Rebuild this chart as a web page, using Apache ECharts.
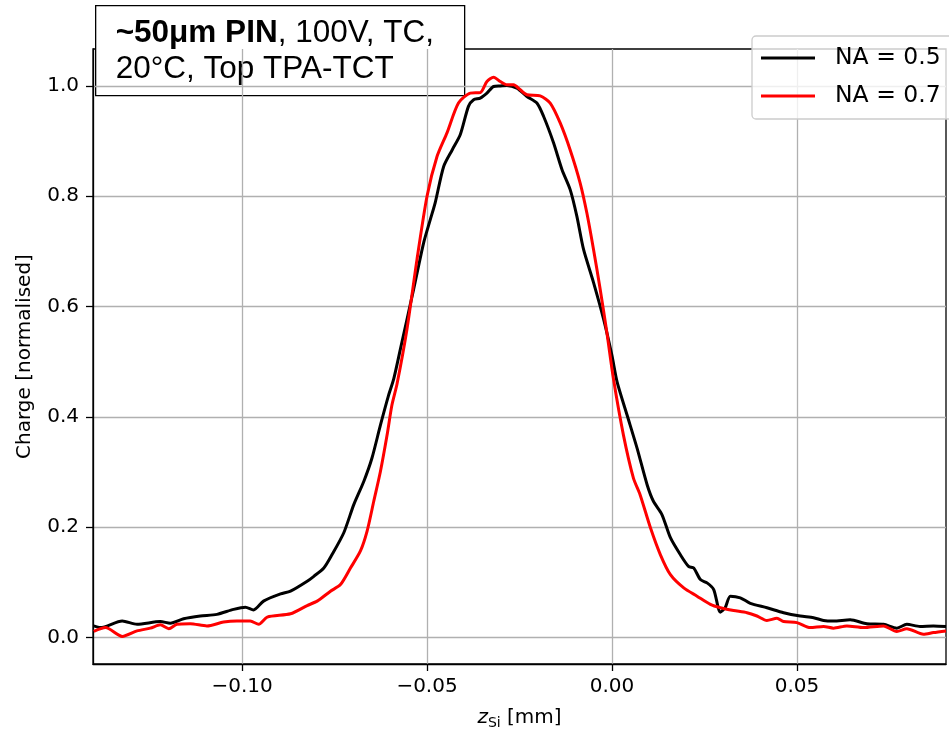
<!DOCTYPE html>
<html>
<head>
<meta charset="utf-8">
<script src="https://cdn.jsdelivr.net/npm/echarts@6/dist/echarts.min.js"></script>
<style>
html,body{margin:0;padding:0;background:#fff;}
#chart{width:949px;height:735px;}
</style>
</head>
<body>
<div id="chart"></div>
<script>
// ---- data ----
const xTicks = [-0.10, -0.05, 0.00, 0.05];
const yTicks = [0.0, 0.2, 0.4, 0.6, 0.8, 1.0];

const na05X = [-0.1401,-0.1383,-0.1324,-0.1284,-0.1221,-0.1194,-0.1158,-0.1113,-0.1068,-0.1023,-0.0991,-0.0969,-0.0942,-0.0896,-0.0869,-0.0824,-0.0806,-0.0779,-0.0757,-0.0725,-0.0698,-0.0671,-0.0649,-0.0626,-0.0604,-0.0590,-0.0572,-0.0536,-0.0509,-0.0491,-0.0478,-0.0455,-0.0432,-0.0410,-0.0388,-0.0374,-0.0356,-0.0338,-0.0320,-0.0302,-0.0284,-0.0257,-0.0230,-0.0203,-0.0185,-0.0158,-0.0135,-0.0113,-0.0095,-0.0077,-0.0050,-0.0023,0.0000,0.0014,0.0041,0.0068,0.0095,0.0112,0.0135,0.0158,0.0185,0.0207,0.0221,0.0239,0.0257,0.0275,0.0293,0.0306,0.0320,0.0347,0.0374,0.0419,0.0464,0.0509,0.0545,0.0572,0.0599,0.0644,0.0689,0.0734,0.0770,0.0797,0.0833,0.0869,0.0903];
const na05Y = [0.021,0.018,0.030,0.024,0.029,0.026,0.034,0.039,0.042,0.051,0.055,0.050,0.066,0.079,0.084,0.102,0.111,0.126,0.150,0.190,0.241,0.283,0.325,0.385,0.439,0.469,0.523,0.632,0.716,0.758,0.788,0.854,0.884,0.912,0.963,0.975,0.978,0.987,0.999,1.000,1.001,0.996,0.981,0.969,0.945,0.897,0.848,0.812,0.764,0.704,0.644,0.578,0.511,0.463,0.403,0.343,0.277,0.247,0.223,0.181,0.150,0.129,0.126,0.105,0.099,0.087,0.046,0.054,0.075,0.072,0.062,0.054,0.045,0.039,0.036,0.031,0.030,0.032,0.025,0.024,0.017,0.024,0.020,0.021,0.020];

const na07X = [-0.1401,-0.1369,-0.1324,-0.1284,-0.1248,-0.1221,-0.1198,-0.1176,-0.1140,-0.1095,-0.1050,-0.1014,-0.0978,-0.0955,-0.0932,-0.0869,-0.0824,-0.0797,-0.0761,-0.0734,-0.0707,-0.0680,-0.0662,-0.0644,-0.0626,-0.0608,-0.0595,-0.0581,-0.0554,-0.0527,-0.0500,-0.0473,-0.0446,-0.0415,-0.0383,-0.0356,-0.0338,-0.0320,-0.0302,-0.0284,-0.0266,-0.0248,-0.0230,-0.0194,-0.0167,-0.0140,-0.0113,-0.0086,-0.0068,-0.0050,-0.0032,-0.0014,0.0004,0.0031,0.0058,0.0076,0.0104,0.0131,0.0158,0.0194,0.0230,0.0266,0.0293,0.0329,0.0365,0.0392,0.0419,0.0446,0.0464,0.0500,0.0536,0.0572,0.0599,0.0635,0.0680,0.0734,0.0770,0.0797,0.0842,0.0869,0.0903];
const na07Y = [0.011,0.018,0.002,0.012,0.017,0.023,0.016,0.024,0.025,0.021,0.028,0.030,0.030,0.024,0.037,0.043,0.058,0.066,0.084,0.096,0.126,0.157,0.193,0.247,0.301,0.367,0.421,0.460,0.560,0.686,0.800,0.872,0.915,0.969,0.987,0.988,1.008,1.016,1.008,1.002,1.002,0.993,0.984,0.982,0.969,0.933,0.884,0.824,0.770,0.704,0.632,0.554,0.469,0.367,0.289,0.259,0.199,0.150,0.114,0.090,0.075,0.060,0.054,0.049,0.045,0.039,0.031,0.035,0.029,0.027,0.018,0.020,0.017,0.021,0.018,0.021,0.011,0.016,0.006,0.009,0.012];

const seriesNames = ['NA = 0.5', 'NA = 0.7'];
const seriesColors = ['#000000', '#ff0000'];
const titleBold = '~50μm PIN';
const titleRest1 = ', 100V, TC,';
const titleLine2 = '20°C, Top TPA-TCT';

const pairs = (xs, ys) => xs.map((x, i) => [x, ys[i]]);
const fmtMinus = (s) => s.replace('-', '\u2212');

const chart = echarts.init(document.getElementById('chart'), null, {renderer: 'canvas'});
const labelFont = {fontFamily: 'DejaVu Sans', fontSize: 20, color: '#000'};
const lineIcon = 'path://M0,0 L54,0 L54,3 L0,3 Z';

chart.setOption({
  animation: false,
  backgroundColor: '#fff',
  grid: {left: 93, right: 3, top: 49, bottom: 68, show: true, borderColor: '#000', borderWidth: 1.3, backgroundColor: 'transparent'},
  xAxis: {
    type: 'value', min: -0.1403, max: 0.0903,
    axisLine: {show: true, onZero: false, lineStyle: {color: '#000', width: 1.3}},
    axisTick: {show: true, inside: false, length: 7, lineStyle: {color: '#000', width: 1.3}, customValues: xTicks},
    axisLabel: Object.assign({margin: 13, customValues: xTicks, formatter: v => fmtMinus(v.toFixed(2))}, labelFont),
    splitLine: {show: true, lineStyle: {color: '#b0b0b0', width: 1.3}},
    name: '{i|z}{s|Si} [mm]', nameLocation: 'middle', nameGap: 42,
    nameTextStyle: {fontFamily: 'DejaVu Sans', fontSize: 20, color: '#000',
      rich: {i: {fontFamily: 'DejaVu Sans', fontStyle: 'italic', fontSize: 20}, s: {fontFamily: 'DejaVu Sans', fontSize: 14, padding: [10, 0, 0, 0]}}}
  },
  yAxis: {
    type: 'value', min: -0.048, max: 1.067,
    axisLine: {show: true, onZero: false, lineStyle: {color: '#000', width: 1.3}},
    axisTick: {show: true, inside: false, length: 7, lineStyle: {color: '#000', width: 1.3}, customValues: yTicks},
    axisLabel: Object.assign({margin: 14, customValues: yTicks, formatter: v => v.toFixed(1)}, labelFont),
    splitLine: {show: true, lineStyle: {color: '#b0b0b0', width: 1.3}},
    name: 'Charge [normalised]', nameLocation: 'middle', nameGap: 58,
    nameTextStyle: {fontFamily: 'DejaVu Sans', fontSize: 20, color: '#000'}
  },
  legend: {
    left: 752, top: 36, orient: 'vertical',
    padding: [10, 30, 11, 9], itemGap: 14, itemWidth: 54, itemHeight: 22,
    backgroundColor: 'rgba(255,255,255,0.8)', borderColor: '#cccccc', borderWidth: 1.3, borderRadius: 4,
    textStyle: {fontFamily: 'DejaVu Sans', fontSize: 23.5, color: '#000', padding: [0, 0, 0, 15]},
    data: seriesNames.map((n) => ({name: n, icon: lineIcon}))
  },
  series: [
    {name: seriesNames[0], type: 'line', data: pairs(na05X, na05Y), showSymbol: false, symbol: 'none', smooth: 0.25,
     lineStyle: {color: seriesColors[0], width: 3}, itemStyle: {color: seriesColors[0]}, z: 3},
    {name: seriesNames[1], type: 'line', data: pairs(na07X, na07Y), showSymbol: false, symbol: 'none', smooth: 0.25,
     lineStyle: {color: seriesColors[1], width: 3}, itemStyle: {color: seriesColors[1]}, z: 4}
  ],
  graphic: [
    {type: 'group', left: 95, top: 5, z: 100, children: [
      {type: 'rect', shape: {x: 0, y: 0, width: 369, height: 90}, style: {fill: '#fff', stroke: '#000', lineWidth: 1.3}},
      {type: 'text', x: 20, y: 10, style: {
        text: '{b|' + titleBold + '}{r|' + titleRest1 + '}\n{r|' + titleLine2 + '}',
        rich: {
          b: {fontFamily: 'Liberation Sans', fontWeight: 'bold', fontSize: 31.5, lineHeight: 36, fill: '#000'},
          r: {fontFamily: 'Liberation Sans', fontSize: 31.5, lineHeight: 36, fill: '#000'}
        }
      }}
    ]}
  ]
});
</script>
</body>
</html>
